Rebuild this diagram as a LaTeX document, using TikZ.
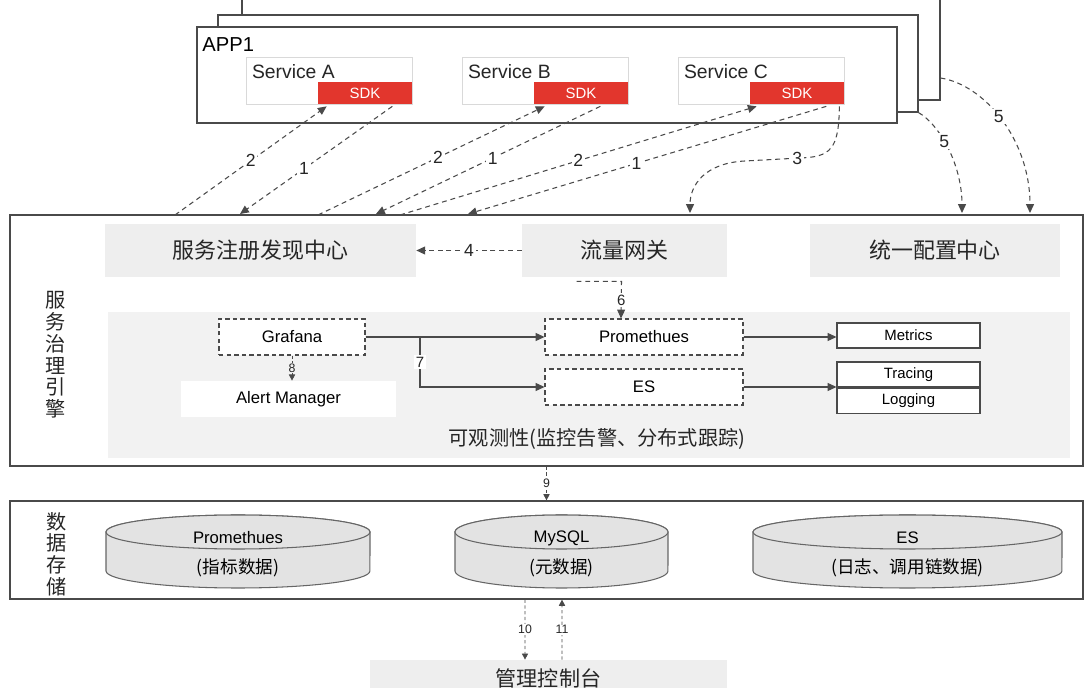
\documentclass[tikz,border=0pt]{standalone}
\usepackage{fontspec}
\setmainfont{Liberation Sans}
\newfontfamily\cjk{Noto Sans CJK SC}
\usetikzlibrary{positioning,arrows.meta,calc}

\definecolor{linegray}{HTML}{4A4A4A}
\definecolor{boxgray}{HTML}{EEEEEE}
\definecolor{panelgray}{HTML}{F2F2F2}
\definecolor{sdkred}{HTML}{E2362D}
\definecolor{dbgray}{HTML}{E3E3E3}

\begin{document}
\begin{tikzpicture}[x=0.02cm, y=-0.02cm,
    appbox/.style={draw=linegray, line width=0.7pt, fill=white, inner sep=0pt},
    svc/.style={draw=black!15, fill=white, minimum width=3.32cm, minimum height=0.94cm},
    svclbl/.style={anchor=west, font=\fontsize{11}{13}\selectfont, text=black!85, inner sep=0pt},
    sdk/.style={fill=sdkred, text=white, font=\fontsize{8.5}{10}\selectfont, minimum width=1.88cm, minimum height=0.44cm, inner sep=0pt},
    greybox/.style={fill=boxgray, minimum height=1.06cm, font=\cjk\fontsize{12.5}{14}\selectfont, text=black!85},
    dbox/.style={draw=linegray, line width=0.6pt, dash pattern=on 2.5pt off 1.8pt, fill=white, minimum height=0.72cm, font=\fontsize{9.5}{11}\selectfont},
    sbox/.style={draw=linegray, line width=0.6pt, fill=white, minimum width=2.86cm, minimum height=0.5cm, font=\fontsize{8.5}{10}\selectfont, inner sep=0pt},
    vlabel/.style={font=\cjk\fontsize{11.5}{12.4}\selectfont, align=center, text=black!85},
    lbl/.style={fill=white, inner sep=1pt, font=\fontsize{10}{11}\selectfont, text=black!85},
    slbl/.style={fill=white, inner sep=0.5pt, font=\fontsize{7}{8}\selectfont, text=black!85},
    dashln/.style={color=linegray, line width=0.6pt, dash pattern=on 2.8pt off 2.2pt, -{Triangle[length=5pt,width=4.5pt]}},
    solidln/.style={color=linegray, line width=0.6pt, -{Triangle[length=5pt,width=4.5pt]}},
    smallln/.style={color=linegray, line width=0.5pt, dash pattern=on 1.8pt off 1.5pt, -{Triangle[length=3.5pt,width=3.5pt]}},
    db/.style={draw=black!60, fill=dbgray, line width=0.6pt},
    ]
    \useasboundingbox (0,0) rectangle (1085,688);

    % application stack
    \node[appbox, minimum width=13.96cm, minimum height=2.2cm] (app3) at (591,45) {};
    \node[appbox, minimum width=14cm, minimum height=1.94cm] (app2) at (568,63.5) {};
    \node[appbox, minimum width=14cm, minimum height=1.92cm] (app1) at (547,75) {};
    \node[anchor=west, font=\fontsize{11.5}{13}\selectfont, inner sep=0pt] (app1lbl) at (202,45) {APP1};

    \node[svc] (svcA) at (329,80.5) {};
    \node[sdk, anchor=south east] (sdkA) at (svcA.south east) {SDK};
    \node[svclbl] (txtA) at ([shift={(6,-8.5)}]svcA.west) {Service A};
    \node[svc] (svcB) at (545,80.5) {};
    \node[sdk, anchor=south east] (sdkB) at (svcB.south east) {SDK};
    \node[svclbl] (txtB) at ([shift={(6,-8.5)}]svcB.west) {Service B};
    \node[svc] (svcC) at (761,80.5) {};
    \node[sdk, anchor=south east] (sdkC) at (svcC.south east) {SDK};
    \node[svclbl] (txtC) at ([shift={(6,-8.5)}]svcC.west) {Service C};

    % governance engine
    \node[appbox, minimum width=21.46cm, minimum height=5.02cm] (eng) at (546.5,340.5) {};
    \node[vlabel] (engl) at (56,355) {服\\务\\治\\理\\引\\擎};
    \node[greybox, minimum width=6.22cm] (reg) at (260.5,250.5) {服务注册发现中心};
    \node[greybox, minimum width=4.1cm] (gw) at (624.5,250.5) {流量网关};
    \node[greybox, minimum width=5cm] (cfg) at (935,250.5) {统一配置中心};

    \node[fill=panelgray, minimum width=19.24cm, minimum height=2.92cm] (obs) at (589,385) {};
    \node[font=\cjk\fontsize{11.5}{13}\selectfont, text=black!85] (obsl) at (597,439) {可观测性(监控告警、分布式跟踪)};
    \node[dbox, minimum width=2.92cm] (graf) at (292,337) {Grafana};
    \node[fill=white, minimum width=4.3cm, minimum height=0.72cm, font=\fontsize{9.5}{11}\selectfont] (alert) at (288.5,399) {Alert Manager};
    \node[dbox, minimum width=3.96cm] (prom) at (644,337) {Promethues};
    \node[dbox, minimum width=3.96cm] (es) at (644,387) {ES};
    \node[sbox] (metrics) at (908.5,335.5) {Metrics};
    \node[sbox] (tracing) at (908.5,374.5) {Tracing};
    \node[sbox, below=0pt of tracing] (logging) {Logging};

    % data storage
    \node[appbox, minimum width=21.46cm, minimum height=1.96cm] (data) at (546.5,550) {};
    \node[vlabel] (datal) at (57,554) {数\\据\\存\\储};

    \draw[db] (106,532) -- (106,571) arc[start angle=180, end angle=360, x radius=2.64cm, y radius=0.34cm]
        -- (370,532) arc[start angle=0, end angle=180, x radius=2.64cm, y radius=0.34cm] -- cycle;
    \draw[db] (238,532) ellipse[x radius=2.64cm, y radius=0.34cm];
    \node[font=\fontsize{9.5}{11}\selectfont] (dbprom) at (238,538) {Promethues};
    \node[font=\cjk\fontsize{10}{12}\selectfont] (dbpromn) at (238,568) {(指标数据)};

    \draw[db] (455,532) -- (455,571) arc[start angle=180, end angle=360, x radius=2.13cm, y radius=0.34cm]
        -- (668,532) arc[start angle=0, end angle=180, x radius=2.13cm, y radius=0.34cm] -- cycle;
    \draw[db] (561.5,532) ellipse[x radius=2.13cm, y radius=0.34cm];
    \node[font=\fontsize{9.5}{11}\selectfont] (dbsql) at (561.5,538) {MySQL};
    \node[font=\cjk\fontsize{10}{12}\selectfont] (dbsqln) at (561.5,568) {(元数据)};

    \draw[db] (753,532) -- (753,571) arc[start angle=180, end angle=360, x radius=3.09cm, y radius=0.34cm]
        -- (1062,532) arc[start angle=0, end angle=180, x radius=3.09cm, y radius=0.34cm] -- cycle;
    \draw[db] (907.5,532) ellipse[x radius=3.09cm, y radius=0.34cm];
    \node[font=\fontsize{9.5}{11}\selectfont] (dbes) at (907.5,538) {ES};
    \node[font=\cjk\fontsize{10}{12}\selectfont] (dbesn) at (907.5,568) {(日志、调用链数据)};

    \node[greybox, minimum width=7.14cm, minimum height=0.72cm, font=\cjk\fontsize{12}{14}\selectfont] (ctl) at (548.5,678) {管理控制台};

    % connectors
    \coordinate (e2a) at (175,215);
    \coordinate (e1a) at (240,214);
    \coordinate (e2b) at (318,215);
    \coordinate (e1b) at (376,214);
    \coordinate (e2c) at (400,215);
    \coordinate (e1c) at (468,214);
    \coordinate (e3) at (690,213);
    \coordinate (e5a) at (962,213);
    \coordinate (e5b) at (1030,213);
    \coordinate (br7) at (420,337);

    \path[dashln]
    (e2a) edge node[lbl, pos=0.5] {2} ([shift={(9,2)}]sdkA.south west)
    ([shift={(-20,2)}]sdkA.south east) edge node[lbl, pos=0.58] {1} (e1a)
    (e2b) edge node[lbl, pos=0.53] {2} ([shift={(11,2)}]sdkB.south west)
    ([shift={(-28,2)}]sdkB.south east) edge node[lbl, pos=0.48] {1} (e1b)
    (e2c) edge node[lbl, pos=0.5] {2} ([shift={(7,2)}]sdkC.south west)
    ([shift={(-18,2)}]sdkC.south east) edge node[lbl, pos=0.53] {1} (e1c)
    (gw.west) edge node[lbl] {4} (reg.east);

    \draw[dashln] ([shift={(-5,2)}]sdkC.south east) .. controls (839,150) and (830,157) .. (800,158)
        -- node[lbl, pos=0.05] {3} (745,161) .. controls (705,163) and (690,185) .. (e3);
    \draw[dashln] (app2.south east) .. controls (940,125) and (962,165) .. node[lbl, pos=0.42] {5} (e5a);
    \draw[dashln] ([shift={(0,33)}]app3.east) .. controls (985,85) and (1030,140) .. node[lbl, pos=0.47] {5} (e5b);
    \draw[dashln] ([shift={(-48,4)}]gw.south) -- ([shift={(-3,4)}]gw.south)
        -- node[lbl, font=\fontsize{8.5}{10}\selectfont] {6} ([shift={(-23,0)}]prom.north);

    \path[solidln]
    (graf.east) edge (prom.west)
    (prom.east) edge (prom.east -| metrics.west)
    (es.east) edge (es.east -| tracing.west);
    \draw[solidln] (br7) |- node[pos=0.25, lbl, font=\fontsize{8.5}{10}\selectfont] (n7) {7} (es.west);

    \path[smallln]
    (graf.south) edge node[slbl, fill=panelgray] {8} (graf.south |- alert.north)
    (eng.south) edge node[slbl] {9} (data.north)
    ([xshift=-0.43cm]data.south) edge node[slbl] {10} ([xshift=-0.47cm]ctl.north)
    ([xshift=0.27cm]ctl.north) edge node[slbl] {11} ([xshift=0.31cm]data.south);
\end{tikzpicture}
\end{document}
